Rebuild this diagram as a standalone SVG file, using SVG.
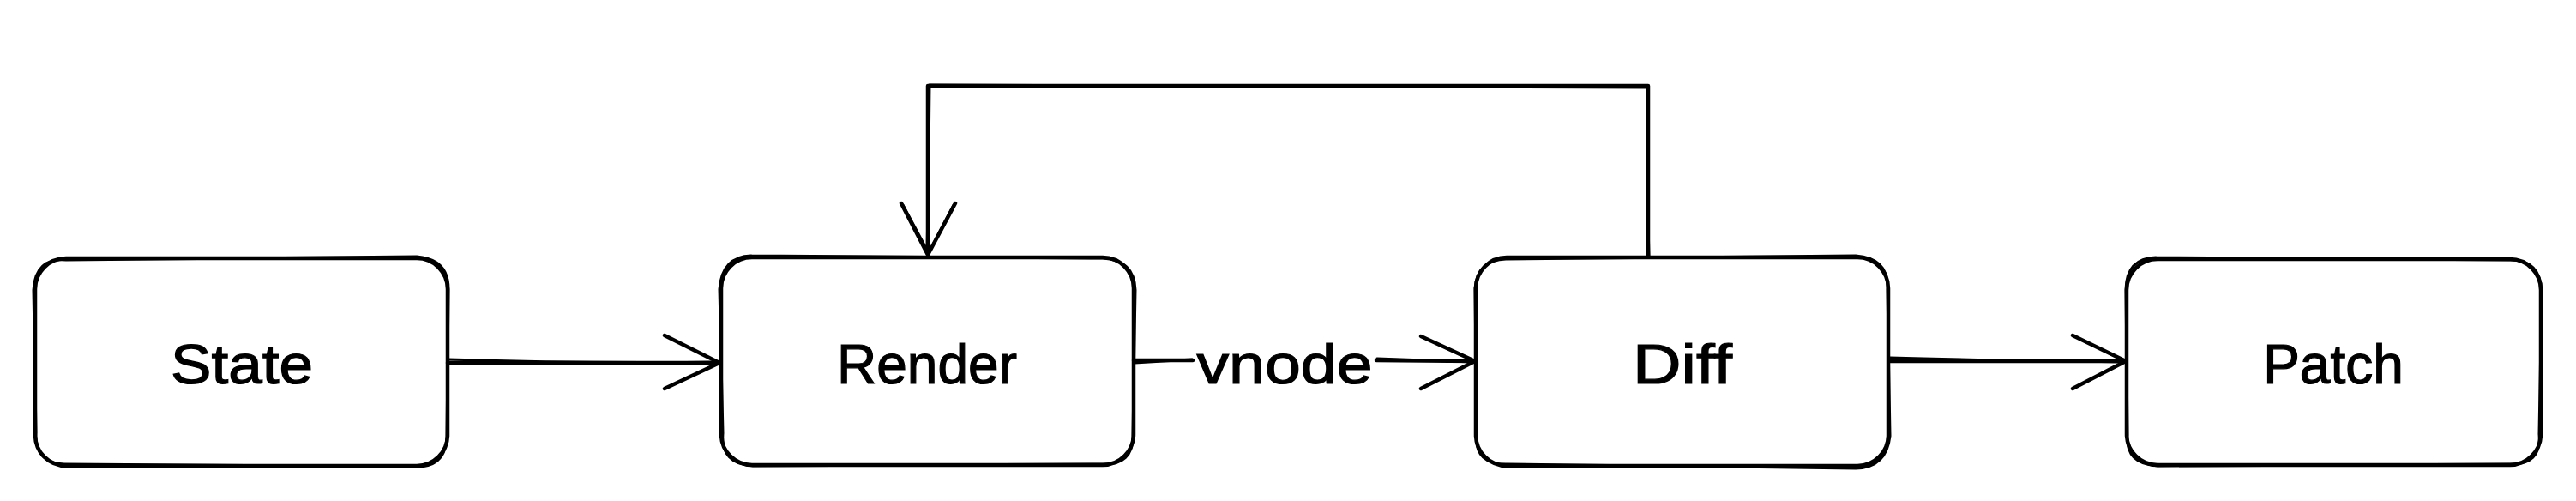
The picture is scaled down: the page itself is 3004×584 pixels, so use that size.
<svg xmlns="http://www.w3.org/2000/svg" width="3004" height="584" viewBox="0 0 3004 584">
<style>
.s{fill:none;stroke:#000000;stroke-width:4.5;stroke-linecap:round;stroke-linejoin:round}
.s2{fill:none;stroke:#000000;stroke-width:3;stroke-linecap:round;stroke-linejoin:round}
.t{font-family:"Liberation Sans",Arial,sans-serif;font-size:64px;fill:#000000;stroke:#000000;stroke-width:1.2;text-anchor:middle}
</style>
<rect width="3004" height="584" fill="#ffffff"/>
<g id="connectors">
  <g id="state-render">
    <path class="s" d="M522,423 L839,423"/>
    <path class="s2" d="M523,419 Q680,424 838,422"/>
    <path class="s" d="M775,391 L839,423 L775,453"/>
  </g>
  <g id="render-diff">
    <path class="s" d="M1322,420 L1391,420"/>
    <path class="s2" d="M1323,423 L1390,419"/>
    <path class="s" d="M1605,420 L1719,421"/>
    <path class="s2" d="M1606,418 L1718,422"/>
    <path class="s" d="M1657,392 L1720,421 L1657,453"/>
  </g>
  <g id="diff-patch">
    <path class="s" d="M2203,421 L2478,421"/>
    <path class="s2" d="M2204,417 Q2300,420 2477,422"/>
    <path class="s" d="M2417,391 L2479,421 L2417,453"/>
  </g>
  <g id="diff-render">
    <path class="s" d="M1922,299 L1922,100 L1082,100 L1082,296"/>
    <path class="s2" d="M1923,298 Q1920,200 1921,102 L1084,99 Q1083,200 1081,295"/>
    <path class="s" d="M1051,237 L1082,297 L1114,237"/>
    <path class="s2" d="M1053,239 L1083,295 L1112,239"/>
  </g>
</g>
<g id="node-state">
  <rect class="s" x="41" y="301" width="481" height="242" rx="36" ry="36"/>
  <path class="s2" d="M77,303 L486,299 Q524,302 523,339 L521,509 Q520,545 484,544 L75,541 Q40,540 42,504 L39,338 Q41,300 77,303"/>
  <text class="t" x="282" y="447" textLength="166" lengthAdjust="spacingAndGlyphs">State</text>
</g>
<g id="node-render">
  <rect class="s" x="841" y="300" width="481" height="242" rx="36" ry="36"/>
  <path class="s2" d="M876,298 L1286,301 Q1323,303 1324,338 L1321,507 Q1322,543 1285,541 L878,543 Q840,541 843,505 L839,337 Q842,299 876,298"/>
  <text class="t" x="1081" y="447">Render</text>
</g>
<g id="node-diff">
  <rect class="s" x="1721" y="300" width="481" height="243" rx="36" ry="36"/>
  <path class="s2" d="M1756,302 L2164,298 Q2203,301 2201,337 L2204,508 Q2200,545 2164,546 L1758,541 Q1719,542 1722,507 L1720,336 Q1723,303 1756,302"/>
  <text class="t" x="1962" y="447" textLength="116" lengthAdjust="spacingAndGlyphs">Diff</text>
</g>
<g id="node-patch">
  <rect class="s" x="2480" y="302" width="483" height="240" rx="36" ry="36"/>
  <path class="s2" d="M2514,300 L2926,303 Q2962,302 2964,339 L2961,506 Q2964,543 2926,541 L2516,543 Q2478,541 2481,507 L2479,337 Q2480,301 2514,300"/>
  <text class="t" x="2721" y="447">Patch</text>
</g>
<g id="label-vnode">
  <text class="t" x="1498" y="447" textLength="205" lengthAdjust="spacingAndGlyphs">vnode</text>
</g>
</svg>
